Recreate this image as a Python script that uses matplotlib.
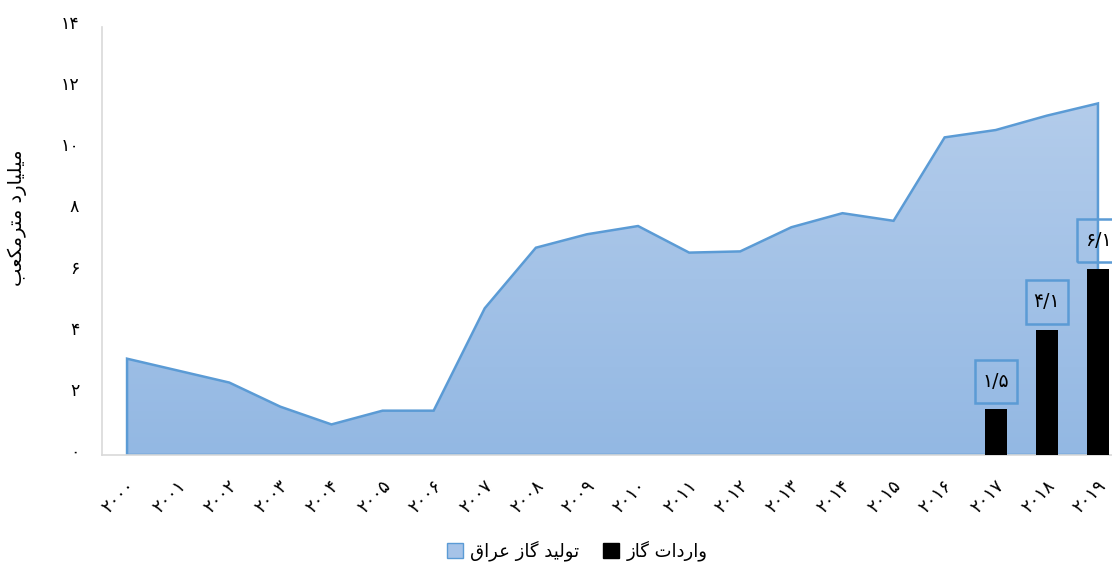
import numpy as np
import matplotlib
matplotlib.use("Agg")
import matplotlib.pyplot as plt
import matplotlib.transforms as mtransforms
from matplotlib.patches import Patch, Polygon, Rectangle
from matplotlib.colors import LinearSegmentedColormap

# داده‌ها
years = list(range(2000, 2020))
production = [3.15, 2.76, 2.37, 1.58, 1.0, 1.45, 1.45, 4.8, 6.78, 7.22,
              7.49, 6.62, 6.66, 7.45, 7.91, 7.66, 10.39, 10.63, 11.1, 11.5]
import_years = [2017, 2018, 2019]
imports = [1.5, 4.1, 6.1]
y_ticks = [0, 2, 4, 6, 8, 10, 12, 14]

ylabel_txt = "میلیارد مترمکعب"
prod_txt = "تولید گاز عراق"
imp_txt = "واردات گاز"

# شکل‌دهی ساده حروف فارسی (isolated, final, initial, medial)
FORMS = {
    "ا": ("\uFE8D", "\uFE8E", None, None),
    "ب": ("\uFE8F", "\uFE90", "\uFE91", "\uFE92"),
    "ت": ("\uFE95", "\uFE96", "\uFE97", "\uFE98"),
    "د": ("\uFEA9", "\uFEAA", None, None),
    "ر": ("\uFEAD", "\uFEAE", None, None),
    "ز": ("\uFEAF", "\uFEB0", None, None),
    "ع": ("\uFEC9", "\uFECA", "\uFECB", "\uFECC"),
    "ق": ("\uFED5", "\uFED6", "\uFED7", "\uFED8"),
    "ل": ("\uFEDD", "\uFEDE", "\uFEDF", "\uFEE0"),
    "م": ("\uFEE1", "\uFEE2", "\uFEE3", "\uFEE4"),
    "و": ("\uFEED", "\uFEEE", None, None),
    "ک": ("\uFB8E", "\uFB8F", "\uFB90", "\uFB91"),
    "گ": ("\uFB92", "\uFB93", "\uFB94", "\uFB95"),
    "ی": ("\uFBFC", "\uFBFD", "\uFBFE", "\uFBFF"),
}


def fa(s):
    out = []
    for i, c in enumerate(s):
        if c not in FORMS:
            out.append(c)
            continue
        prev = s[i - 1] if i > 0 else ""
        nxt = s[i + 1] if i + 1 < len(s) else ""
        jp = prev in FORMS and FORMS[prev][2] is not None
        jn = FORMS[c][2] is not None and nxt in FORMS
        f = FORMS[c]
        if jp and jn:
            out.append(f[3])
        elif jp:
            out.append(f[1])
        elif jn:
            out.append(f[2])
        else:
            out.append(f[0])
    return "".join(out)[::-1]


def fa_num(v):
    s = str(v).replace(".", "/")
    return s.translate(str.maketrans("0123456789", "۰۱۲۳۴۵۶۷۸۹"))


plt.rcParams["font.family"] = ["DejaVu Sans"]

fig = plt.figure(figsize=(11.12, 5.64), dpi=100)
ax = fig.add_axes([101.5 / 1112, 109 / 564, 1022 / 1112, 428 / 564])

x = np.arange(len(years))
xi = np.array([years.index(y) for y in import_years])

# ناحیه با گرادیان
verts = [(x[0], 0)] + list(zip(x, production)) + [(x[-1], 0)]
poly = Polygon(verts, closed=True, facecolor="none", edgecolor="#5B9BD5", lw=1.8, zorder=2)
ax.add_patch(poly)
cmap = LinearSegmentedColormap.from_list("g", ["#93B8E3", "#B3CCEB"])
grad = np.linspace(0, 1, 256).reshape(-1, 1)
im = ax.imshow(grad, cmap=cmap, origin="lower", aspect="auto",
               extent=(-0.5, len(years) - 0.5, 0, max(production)), zorder=1)
im.set_clip_path(poly)

# ستون‌های واردات با برچسب در کادر
ax.bar(xi, imports, width=0.43, color="black", zorder=3)
box_w, box_h, gap = 0.82, 1.41, 0.2
for xx, v in zip(xi, imports):
    ax.add_patch(Rectangle((xx - box_w / 2, v + gap), box_w, box_h, fc="none",
                           ec="#5B9BD5", lw=1.8, zorder=4, clip_on=False))
    ax.text(xx, v + gap + box_h / 2, fa_num(v), ha="center", va="center",
            fontsize=13.5, zorder=5)

ax.set_xlim(-0.5, len(years) - 0.5)
ax.set_ylim(0, 14)
ax.set_yticks(y_ticks)
ax.set_yticklabels([fa_num(t) for t in y_ticks], fontsize=12.5)
ax.set_xticks(x)
ax.set_xticklabels([fa_num(y) for y in years], rotation=45, ha="right",
                   va="center", rotation_mode="anchor", fontsize=13)
ax.tick_params(axis="y", length=0, pad=16)
ax.tick_params(axis="x", length=0, pad=20)

up = mtransforms.ScaledTranslation(0, 5 / 100, fig.dpi_scale_trans)
for lab in ax.get_yticklabels():
    lab.set_transform(lab.get_transform() + up)
right = mtransforms.ScaledTranslation(5 / 100, 0, fig.dpi_scale_trans)
for lab in ax.get_xticklabels():
    lab.set_transform(lab.get_transform() + right)

for s in ["top", "right"]:
    ax.spines[s].set_visible(False)
for s in ["left", "bottom"]:
    ax.spines[s].set_color("#D9D9D9")
    ax.spines[s].set_linewidth(1.2)

fig.text(17 / 1112, 1 - 218 / 564, fa(ylabel_txt), rotation=90, ha="center",
         va="center", fontsize=14)

handles = [Patch(facecolor="#A6C3E8", edgecolor="#5B9BD5", label=fa(prod_txt)),
           Patch(facecolor="black", edgecolor="black", label=fa(imp_txt))]
fig.legend(handles=handles, loc="center", bbox_to_anchor=(0.519, 0.023), ncol=2,
           frameon=False, fontsize=13, handlelength=0.9, handleheight=0.9,
           handletextpad=0.4, columnspacing=1.3)

fig.savefig("out.png", dpi=100)
